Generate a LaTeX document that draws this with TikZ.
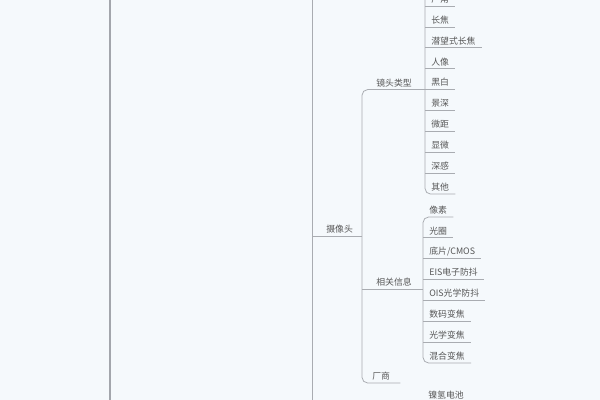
\documentclass[tikz,border=0pt]{standalone}
\usepackage{fontspec}
\setmainfont{Noto Sans CJK SC}
\definecolor{bgblue}{HTML}{F5F9FC}
\definecolor{linegray}{HTML}{A9ACB1}
\definecolor{railgray}{HTML}{A3A6AC}
\definecolor{textgray}{HTML}{575757}
\begin{document}
\begin{tikzpicture}[x=0.025cm,y=-0.025cm,
    branch/.style={draw=linegray,line width=.55pt},
    txt/.style={text=textgray,font=\fontsize{6.3}{7}\selectfont},
    leaf/.style={txt,anchor=south west,inner xsep=.15cm,inner ysep=1.9pt},
    mid/.style={leaf,inner xsep=.35cm}]
    \useasboundingbox (0,0) rectangle (600,400);
    \fill[bgblue] (0,0) rectangle (600,400);
    \clip (0,0) rectangle (600,400);
    % rails
    \draw[railgray,line width=2pt] (110,-10)--(110,410);
    \draw[branch] (312,-10)--(312,410);
    % lens types
    \foreach \t [count=\i from 0] in {广角,长焦,潜望式长焦,人像,黑白,景深,微距,显微,深感,其他}
      \node[leaf] (l\i) at (425,6+20.9*\i) {\t};
    \foreach \i in {0,...,8} \draw[branch] (l\i.south west)--(l\i.south east);
    \draw[branch,rounded corners=4pt] (425,-10)--(l9.south west)--(l9.south east);
    % related info
    \foreach \t [count=\i from 0] in {像素,光圈,底片/CMOS,EIS电子防抖,OIS光学防抖,数码变焦,光学变焦,混合变焦}
      \node[leaf] (p\i) at (423,217+20.86*\i) {\t};
    \foreach \i in {1,...,6} \draw[branch] (p\i.south west)--(p\i.south east);
    \draw[branch,rounded corners=4pt] (p0.south east)--(p0.south west)--(p7.south west)--(p7.south east);
    % camera
    \node[mid] (cam) at (312,236) {摄像头};
    \node[mid] (lens) at (362,90) {镜头类型};
    \node[mid] (info) at (362,289) {相关信息};
    \node[mid,inner xsep=.25cm] (mk) at (362,383) {厂商};
    \draw[branch,rounded corners=4pt] (l4.south west)-|(mk.south west)--(mk.south east);
    \draw[branch] (cam.south west)--(cam.south west -| mk.south west);
    \draw[branch] (info.south west)--(info.south west -| p0.south west);
    \node[txt] (bat) at (446,395) {镍氢电池};
  \end{tikzpicture}
\end{document}
